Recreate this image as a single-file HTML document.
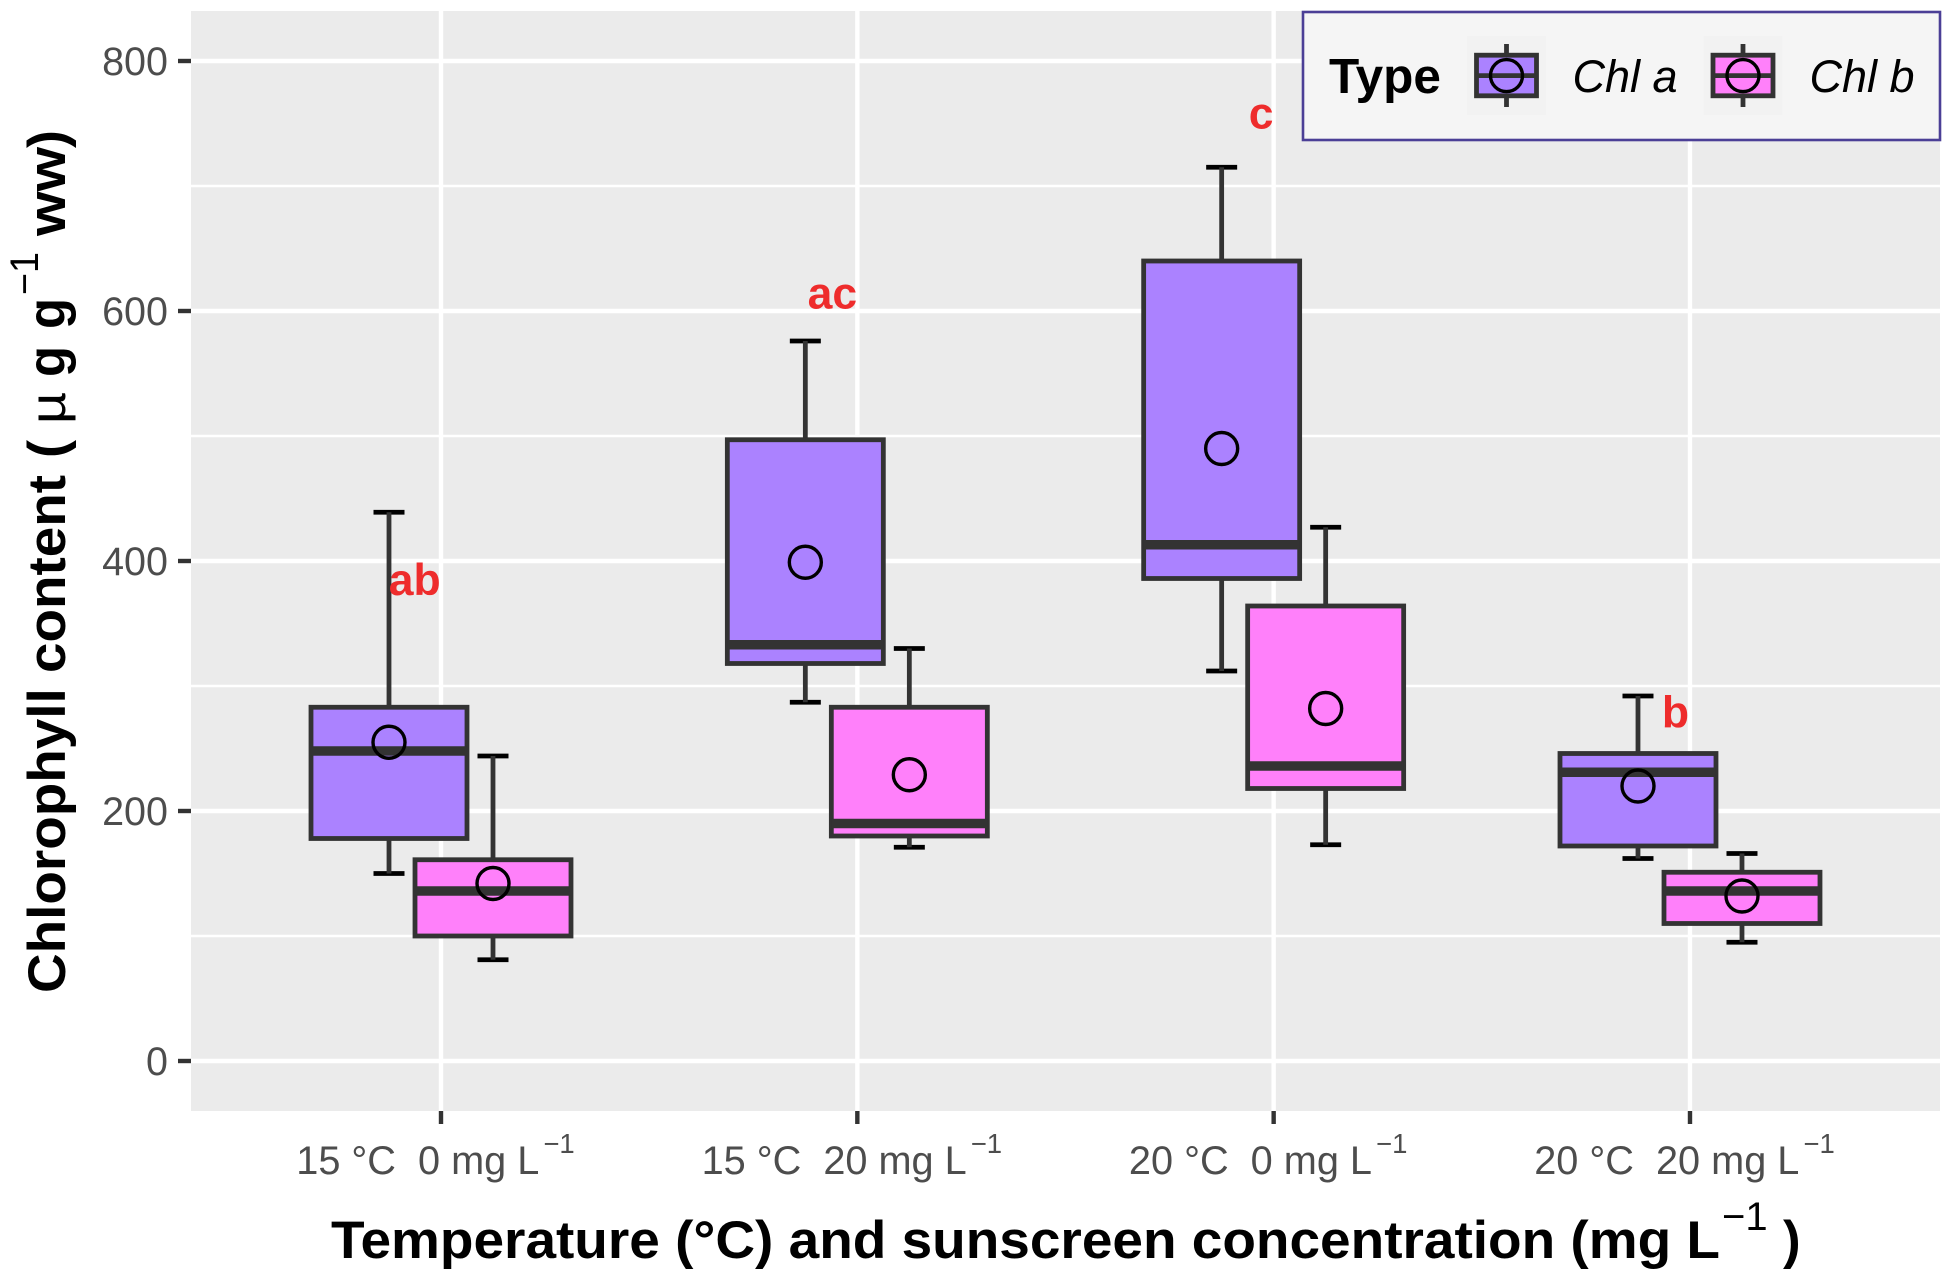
<!DOCTYPE html>
<html lang="en">
<head>
<meta charset="utf-8">
<title>Chlorophyll content boxplot</title>
<style>
html,body{margin:0;padding:0;background:#fff;}
svg{display:block;font-family:"Liberation Sans",Arial,sans-serif;}
</style>
</head>
<body>
<svg id="chart" xmlns="http://www.w3.org/2000/svg" width="1951" height="1279" viewBox="0 0 1951 1279"></svg>
<script>
const categories = ['15-0', '15-20', '20-0', '20-20'];
const tempLabels = ['15 °C', '15 °C', '20 °C', '20 °C'];
const concLabels = ['0 mg L', '20 mg L', '0 mg L', '20 mg L'];
const yTicks = [0, 200, 400, 600, 800];
const yMinorTicks = [100, 300, 500, 700];

const chlAWhiskerHigh = [439, 576, 715, 292];
const chlAQ3 = [283, 497, 640, 246];
const chlAMedian = [248, 333, 413, 231];
const chlAQ1 = [178, 318, 386, 172];
const chlAWhiskerLow = [150, 287, 312, 162];
const chlAMean = [255, 399, 490, 220];

const chlBWhiskerHigh = [244, 330, 427, 166];
const chlBQ3 = [161, 283, 364, 151];
const chlBMedian = [136, 190, 236, 136];
const chlBQ1 = [100, 180, 218, 110];
const chlBWhiskerLow = [81, 171, 173, 95];
const chlBMean = [142, 229, 282, 132];

const sigLabels = ['ab', 'ac', 'c', 'b'];
const sigLabelCatOffset = [-0.063, -0.06, -0.03, -0.035];
const sigLabelValue = [373, 602, 746, 267];

const svg = document.getElementById('chart');
const NS = 'http://www.w3.org/2000/svg';
const panel = {left: 191, right: 1940, top: 11, bottom: 1111};
function xScale(i) { return 441 + i * 416.33; }
function yScale(v) { return 1061 - v * 1.25; }
function make(tag, attrs, parent) {
  const el = document.createElementNS(NS, tag);
  for (const k in attrs) el.setAttribute(k, attrs[k]);
  (parent || svg).appendChild(el);
  return el;
}

const bg = make('rect', {x: panel.left, y: panel.top, width: panel.right - panel.left, height: panel.bottom - panel.top, fill: '#EBEBEB'});



yMinorTicks.forEach(function (v) {
  const g = make('line', {x1: panel.left, x2: panel.right, y1: yScale(v), y2: yScale(v), stroke: '#fff', 'stroke-width': 2.4});
  
  
});
yTicks.forEach(function (v) {
  const g = make('line', {x1: panel.left, x2: panel.right, y1: yScale(v), y2: yScale(v), stroke: '#fff', 'stroke-width': 4.4});
  
  
  const t = make('line', {x1: 178, x2: panel.left, y1: yScale(v), y2: yScale(v), stroke: '#333', 'stroke-width': 4.4});
  
  
  const l = make('text', {x: 168, y: yScale(v) + 14, 'text-anchor': 'end', 'font-size': 39.5, fill: '#4D4D4D'});
  l.textContent = String(v);
  
  
});
categories.forEach(function (c, i) {
  const x = xScale(i);
  const g = make('line', {x1: x, x2: x, y1: panel.top, y2: panel.bottom, stroke: '#fff', 'stroke-width': 4.4});
  
  
  const t = make('line', {x1: x, x2: x, y1: panel.bottom, y2: 1124, stroke: '#333', 'stroke-width': 4.4});
  
  
  const l = make('text', {x: x - 5.5, y: 1174, 'text-anchor': 'middle', 'font-size': 39.7, fill: '#4D4D4D', 'xml:space': 'preserve', style: 'white-space:pre'});
  
  
  l.appendChild(document.createTextNode(tempLabels[i] + '  ' + concLabels[i]));
  const s = make('tspan', {dx: 4, dy: -21, 'font-size': 27.5}, l);
  s.textContent = '\u22121';
});

function drawBox(i, dodge, fill, high, q3, med, q1, low, mean, seriesName) {
  const cx = xScale(i) + dodge;
  const halfBox = 78;
  const g = make('g', {});
  
  
  [high[i], low[i]].forEach(function (v, k) {
    const cap = make('line', {x1: cx - 15.5, x2: cx + 15.5, y1: yScale(v), y2: yScale(v), stroke: '#000', 'stroke-width': 4.8}, g);
    
    
  });
  const wu = make('line', {x1: cx, x2: cx, y1: yScale(high[i]), y2: yScale(q3[i]), stroke: '#333', 'stroke-width': 4.8}, g);
  
  
  const wl = make('line', {x1: cx, x2: cx, y1: yScale(q1[i]), y2: yScale(low[i]), stroke: '#333', 'stroke-width': 4.8}, g);
  
  
  const box = make('rect', {x: cx - halfBox, width: 2 * halfBox, y: yScale(q3[i]), height: yScale(q1[i]) - yScale(q3[i]), fill: fill, stroke: '#333', 'stroke-width': 4.8}, g);
  
  
  const m = make('line', {x1: cx - halfBox, x2: cx + halfBox, y1: yScale(med[i]), y2: yScale(med[i]), stroke: '#333', 'stroke-width': 9.5}, g);
  
  
  const p = make('circle', {cx: cx, cy: yScale(mean[i]), r: 16, fill: 'none', stroke: '#000', 'stroke-width': 3.4}, g);
  
  
}
categories.forEach(function (c, i) {
  drawBox(i, -52, '#AB82FF', chlAWhiskerHigh, chlAQ3, chlAMedian, chlAQ1, chlAWhiskerLow, chlAMean, 'chl-a');
  drawBox(i, 52, '#FF80FA', chlBWhiskerHigh, chlBQ3, chlBMedian, chlBQ1, chlBWhiskerLow, chlBMean, 'chl-b');
});
sigLabels.forEach(function (s, i) {
  const t = make('text', {x: xScale(i + sigLabelCatOffset[i]), y: yScale(sigLabelValue[i]), 'text-anchor': 'middle', 'font-size': 44.5, 'font-weight': 'bold', fill: '#EE2C2C'});
  t.textContent = s;
  
  
});

// legend
const legendBox = make('rect', {x: 1303, y: 12, width: 637, height: 128, fill: '#F5F5F5', stroke: '#4B3F96', 'stroke-width': 2.6});


const legendTitle = make('text', {x: 1329, y: 93, 'font-size': 49.5, 'font-weight': 'bold', fill: '#000'});
legendTitle.textContent = 'Type';


function legendEntry(cx, fill, label, labelX, name) {
  const g = make('g', {});
  
  
  make('rect', {x: cx - 39.5, y: 36, width: 79, height: 79, fill: '#F2F2F2'}, g);
  make('line', {x1: cx, x2: cx, y1: 44, y2: 107, stroke: '#333', 'stroke-width': 4.8}, g);
  make('rect', {x: cx - 30, y: 55.2, width: 60, height: 40.6, fill: fill, stroke: '#333', 'stroke-width': 4.8}, g);
  make('line', {x1: cx - 30, x2: cx + 30, y1: 75.6, y2: 75.6, stroke: '#333', 'stroke-width': 4.8}, g);
  make('circle', {cx: cx, cy: 75.6, r: 16, fill: 'none', stroke: '#000', 'stroke-width': 3.4}, g);
  const t = make('text', {x: labelX, y: 92, 'font-size': 45, 'font-style': 'italic', fill: '#000'}, g);
  t.textContent = label;
}
legendEntry(1506.5, '#AB82FF', 'Chl a', 1572.5, 'chl-a');
legendEntry(1743, '#FF80FA', 'Chl b', 1809.5, 'chl-b');

// x axis title
const xTitle = make('g', {});


const xt1 = make('text', {x: 331, y: 1258, 'font-size': 53, 'font-weight': 'bold', fill: '#000', textLength: 1389, lengthAdjust: 'spacingAndGlyphs'}, xTitle);
xt1.textContent = 'Temperature (°C) and sunscreen concentration (mg L';
const xt2 = make('text', {x: 1722, y: 1230, 'font-size': 40, fill: '#000'}, xTitle);
xt2.textContent = '\u22121';
const xt3 = make('text', {x: 1783, y: 1258, 'font-size': 53, 'font-weight': 'bold', fill: '#000'}, xTitle);
xt3.textContent = ')';

// y axis title
const yTitle = make('g', {});


function yPiece(text, top, bottom, baseX, size, bold) {
  const t = make('text', {transform: 'translate(' + baseX + ',' + bottom + ') rotate(-90)', 'font-size': size, 'font-weight': bold ? 'bold' : 'normal', fill: '#000', textLength: bottom - top, lengthAdjust: 'spacingAndGlyphs'}, yTitle);
  t.textContent = text;
}
yPiece('Chlorophyll content', 475, 993, 65, 53, true);
yPiece('(', 440, 458, 65, 53, true);
yPiece('\u00B5', 392, 424, 65, 50, false);
yPiece('g', 346, 377, 65, 53, true);
yPiece('g', 298, 329, 65, 53, true);
yPiece('\u22121', 252, 295, 38, 40, false);
yPiece('ww', 147, 236, 65, 53, true);
yPiece(')', 130, 148, 65, 53, true);
</script>
</body>
</html>
